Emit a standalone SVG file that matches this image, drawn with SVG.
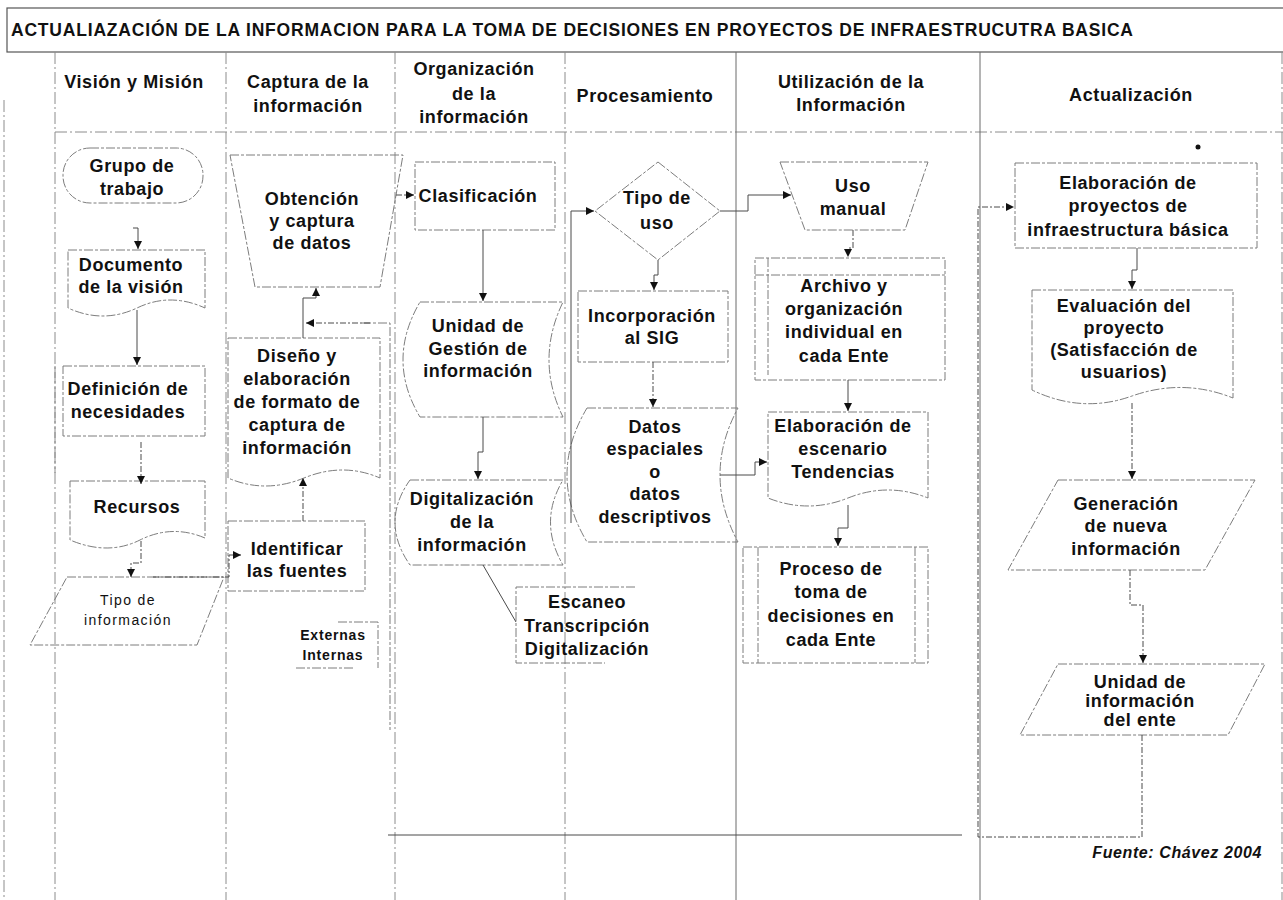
<svg xmlns="http://www.w3.org/2000/svg" width="1283" height="900" viewBox="0 0 1283 900">
<defs>
<style>
.t{font-family:"Liberation Sans",Arial,sans-serif;font-weight:bold;font-size:18px;letter-spacing:0.6px;text-anchor:middle;fill:#111}
.s{font-family:"Liberation Sans",Arial,sans-serif;font-size:14px;letter-spacing:1.4px;text-anchor:middle;fill:#111}
.sb{font-family:"Liberation Sans",Arial,sans-serif;font-weight:bold;font-size:14px;letter-spacing:0.8px;text-anchor:middle;fill:#111}
.ttl{font-family:"Liberation Sans",Arial,sans-serif;font-weight:bold;font-size:17.5px;fill:#111}
.src{font-family:"Liberation Sans",Arial,sans-serif;font-weight:bold;font-style:italic;font-size:16px;letter-spacing:0.6px;text-anchor:end;fill:#111}
.sh{fill:none;stroke:#7d7d7d;stroke-width:1;stroke-dasharray:9 2 3 2}
.ln{fill:none;stroke:#8c8c8c;stroke-width:1;stroke-dasharray:12 3 2 3}
.lns{fill:none;stroke:#6a6a6a;stroke-width:1}
.cn{fill:none;stroke:#4a4a4a;stroke-width:1}
.cd{fill:none;stroke:#4a4a4a;stroke-width:1;stroke-dasharray:6 2 2 2}
</style>
<marker id="ar" viewBox="0 0 10 10" refX="10" refY="5" markerWidth="8" markerHeight="8" markerUnits="userSpaceOnUse" orient="auto"><path d="M0,0 L10,5 L0,10 Z" fill="#111"/></marker>
</defs>
<rect width="1283" height="900" fill="#fff"/>

<g id="frame">
<rect x="7" y="8" width="1290" height="44" fill="none" stroke="#555" stroke-width="1.2"/>
<text class="ttl" x="11" y="36" textLength="1122" lengthAdjust="spacing">ACTUALIAZACIÓN DE LA INFORMACION PARA LA TOMA DE DECISIONES EN PROYECTOS DE INFRAESTRUCUTRA BASICA</text>
<path class="ln" d="M55,132 H1283"/>
<path class="ln" d="M4,100 V900"/>
<path class="ln" d="M55,52 V900"/>
<path class="ln" d="M226,52 V900"/>
<path class="ln" d="M395,52 V900"/>
<path class="ln" d="M565,52 V900"/>
<path class="lns" d="M736,52 V900"/>
<path class="lns" d="M980,52 V900"/>
<path class="ln" d="M1282,52 V900"/>
<path class="cn" d="M388,835 H962"/>
<text class="t" x="134" y="88">Visión y Misión</text>
<text class="t" x="308" y="88">Captura de la</text>
<text class="t" x="308" y="112">información</text>
<text class="t" x="474" y="75">Organización</text>
<text class="t" x="474" y="100">de la</text>
<text class="t" x="474" y="123">información</text>
<text class="t" x="645" y="102">Procesamiento</text>
<text class="t" x="851" y="88">Utilización de la</text>
<text class="t" x="851" y="111">Información</text>
<text class="t" x="1131" y="101">Actualización</text>
<circle cx="1198" cy="147" r="2.5" fill="#111"/>
<text class="src" x="1262" y="858">Fuente: Chávez 2004</text>
</g>

<g id="n-grupo">
<rect class="sh" x="63" y="148" width="140" height="55" rx="27"/>
<text class="t" x="132" y="172">Grupo de</text>
<text class="t" x="132" y="195">trabajo</text>
</g>
<g id="n-documento">
<path class="sh" d="M68,250 H205 V308 Q170,292 137,308 Q103,324 68,308 Z"/>
<text class="t" x="131" y="271">Documento</text>
<text class="t" x="131" y="293">de la visión</text>
</g>
<g id="n-definicion">
<rect class="sh" x="63" y="366" width="142" height="70"/>
<path class="ln" d="M55,366 V473"/>
<text class="t" x="128" y="395">Definición de</text>
<text class="t" x="128" y="418">necesidades</text>
</g>
<g id="n-recursos">
<path class="sh" d="M70,481 H205 V538 Q172,524 140,540 Q108,556 70,540 Z"/>
<text class="t" x="137" y="513">Recursos</text>
</g>
<g id="n-tipoinfo">
<path class="sh" d="M67,577 H224 L197,645 H30 Z"/>
<text class="s" x="128" y="605">Tipo de</text>
<text class="s" x="128" y="625">información</text>
</g>

<g id="n-obtencion">
<path class="sh" d="M230,155 H403 L380,287 H255 Z"/>
<text class="t" x="312" y="205">Obtención</text>
<text class="t" x="312" y="227">y captura</text>
<text class="t" x="312" y="249">de datos</text>
</g>
<g id="n-diseno">
<path class="sh" d="M228,338 H380 V478 Q343,462 304,478 Q265,494 228,478 Z"/>
<path class="sh" d="M362,323 H390 V730"/>
<text class="t" x="297" y="362">Diseño y</text>
<text class="t" x="297" y="385">elaboración</text>
<text class="t" x="297" y="408">de formato de</text>
<text class="t" x="297" y="431">captura de</text>
<text class="t" x="297" y="454">información</text>
</g>
<g id="n-identificar">
<rect class="sh" x="228" y="521" width="137" height="70"/>
<text class="t" x="297" y="555">Identificar</text>
<text class="t" x="297" y="577">las fuentes</text>
</g>
<g id="n-fuentes">
<path class="sh" d="M338,622 H378 V668"/>
<path class="sh" d="M296,668 H353"/>
<text class="sb" x="333" y="640">Externas</text>
<text class="sb" x="333" y="660">Internas</text>
</g>

<g id="n-clasificacion">
<rect class="sh" x="415" y="162" width="140" height="68"/>
<text class="t" x="478" y="202">Clasificación</text>
</g>
<g id="n-unidadgestion">
<path class="sh" d="M420,302 H563 Q535,360 563,417 H420 Q386,360 420,302 Z"/>
<text class="t" x="478" y="332">Unidad de</text>
<text class="t" x="478" y="355">Gestión de</text>
<text class="t" x="478" y="377">información</text>
</g>
<g id="n-digitalizacion">
<path class="sh" d="M410,480 H563 Q538,522 563,565 H410 Q380,522 410,480 Z"/>
<text class="t" x="472" y="505">Digitalización</text>
<text class="t" x="472" y="528">de la</text>
<text class="t" x="472" y="551">información</text>
</g>
<g id="n-escaneo">
<path class="sh" d="M635,587 H516 V663 H605"/>
<text class="t" x="587" y="608">Escaneo</text>
<text class="t" x="587" y="632">Transcripción</text>
<text class="t" x="587" y="655">Digitalización</text>
</g>

<g id="n-tipouso">
<path class="sh" d="M658,162 L720,211 L658,260 L595,211 Z"/>
<text class="t" x="657" y="204">Tipo de</text>
<text class="t" x="657" y="229">uso</text>
</g>
<g id="n-incorporacion">
<rect class="sh" x="578" y="291" width="150" height="71"/>
<text class="t" x="652" y="322">Incorporación</text>
<text class="t" x="652" y="344">al SIG</text>
</g>
<g id="n-datos">
<path class="sh" d="M587,408 H738 Q702,475 738,542 H587 Q547,475 587,408 Z"/>
<text class="t" x="655" y="433">Datos</text>
<text class="t" x="655" y="455">espaciales</text>
<text class="t" x="655" y="478">o</text>
<text class="t" x="655" y="500">datos</text>
<text class="t" x="655" y="523">descriptivos</text>
</g>

<g id="n-usomanual">
<path class="sh" d="M780,162 H928 L905,230 H805 Z"/>
<text class="t" x="853" y="192">Uso</text>
<text class="t" x="853" y="215">manual</text>
</g>
<g id="n-archivo">
<rect class="sh" x="755" y="258" width="190" height="122"/>
<path class="sh" d="M768,258 V375 M755,275 H945"/>
<text class="t" x="844" y="292">Archivo y</text>
<text class="t" x="844" y="315">organización</text>
<text class="t" x="844" y="338">individual en</text>
<text class="t" x="844" y="362">cada Ente</text>
</g>
<g id="n-escenario">
<path class="sh" d="M768,412 H928 V498 Q888,482 848,498 Q808,514 768,498 Z"/>
<text class="t" x="843" y="432">Elaboración de</text>
<text class="t" x="843" y="455">escenario</text>
<text class="t" x="843" y="478">Tendencias</text>
</g>
<g id="n-proceso">
<rect class="sh" x="743" y="547" width="185" height="116"/>
<path class="sh" d="M758,547 V663 M915,547 V663"/>
<text class="t" x="831" y="575">Proceso de</text>
<text class="t" x="831" y="598">toma de</text>
<text class="t" x="831" y="622">decisiones en</text>
<text class="t" x="831" y="646">cada Ente</text>
</g>

<g id="n-proyectos">
<rect class="sh" x="1015" y="163" width="242" height="85"/>
<text class="t" x="1128" y="189">Elaboración de</text>
<text class="t" x="1128" y="212">proyectos de</text>
<text class="t" x="1128" y="236">infraestructura básica</text>
</g>
<g id="n-evaluacion">
<path class="sh" d="M1032,290 H1233 V398 Q1183,378 1132,396 Q1082,414 1032,390 Z"/>
<text class="t" x="1124" y="312">Evaluación del</text>
<text class="t" x="1124" y="334">proyecto</text>
<text class="t" x="1124" y="356">(Satisfacción de</text>
<text class="t" x="1124" y="378">usuarios)</text>
</g>
<g id="n-generacion">
<path class="sh" d="M1058,480 H1255 L1205,570 H1008 Z"/>
<text class="t" x="1126" y="510">Generación</text>
<text class="t" x="1126" y="532">de nueva</text>
<text class="t" x="1126" y="555">información</text>
</g>
<g id="n-unidadente">
<path class="sh" d="M1058,664 H1265 L1228,735 H1020 Z"/>
<text class="t" x="1140" y="688">Unidad de</text>
<text class="t" x="1140" y="707">información</text>
<text class="t" x="1140" y="726">del ente</text>
</g>

<g id="connectors">
<path class="cn" d="M133,228 H138 V249" marker-end="url(#ar)"/>
<path class="cn" d="M137,310 V365" marker-end="url(#ar)"/>
<path class="cd" d="M141,442 V484" marker-end="url(#ar)"/>
<path class="cd" d="M141,541 V563 H131 V577" marker-end="url(#ar)"/>
<path class="cd" d="M153,577 H229 V555 H241" marker-end="url(#ar)"/>
<path class="cd" d="M303,521 V478" marker-end="url(#ar)"/>
<path class="cn" d="M303,338 V298 H316 V288" marker-end="url(#ar)"/>
<path class="cd" d="M370,323 H306" marker-end="url(#ar)"/>
<path class="cd" d="M396,195 H414" marker-end="url(#ar)"/>
<path class="cn" d="M483,230 V301" marker-end="url(#ar)"/>
<path class="cn" d="M483,417 V452 H478 V479" marker-end="url(#ar)"/>
<path class="cn" d="M483,565 L516,622"/>
<path class="cn" d="M571,523 V211 H594" marker-end="url(#ar)"/>
<path class="cn" d="M720,211 H748 V195 H791" marker-end="url(#ar)"/>
<path class="cn" d="M658,260 V275 H654 V290" marker-end="url(#ar)"/>
<path class="cd" d="M653,362 V407" marker-end="url(#ar)"/>
<path class="cn" d="M720,475 H755 V462 H767" marker-end="url(#ar)"/>
<path class="cd" d="M853,230 V248 H848 V257" marker-end="url(#ar)"/>
<path class="cn" d="M848,380 V411" marker-end="url(#ar)"/>
<path class="cn" d="M848,505 V528 H838 V546" marker-end="url(#ar)"/>
<path class="cd" d="M1142,735 V837 H978 V207 H1014" marker-end="url(#ar)"/>
<path class="cn" d="M1137,248 V270 H1132 V289" marker-end="url(#ar)"/>
<path class="cd" d="M1132,403 V479" marker-end="url(#ar)"/>
<path class="cd" d="M1130,570 V605 H1143 V663" marker-end="url(#ar)"/>
</g>
</svg>
